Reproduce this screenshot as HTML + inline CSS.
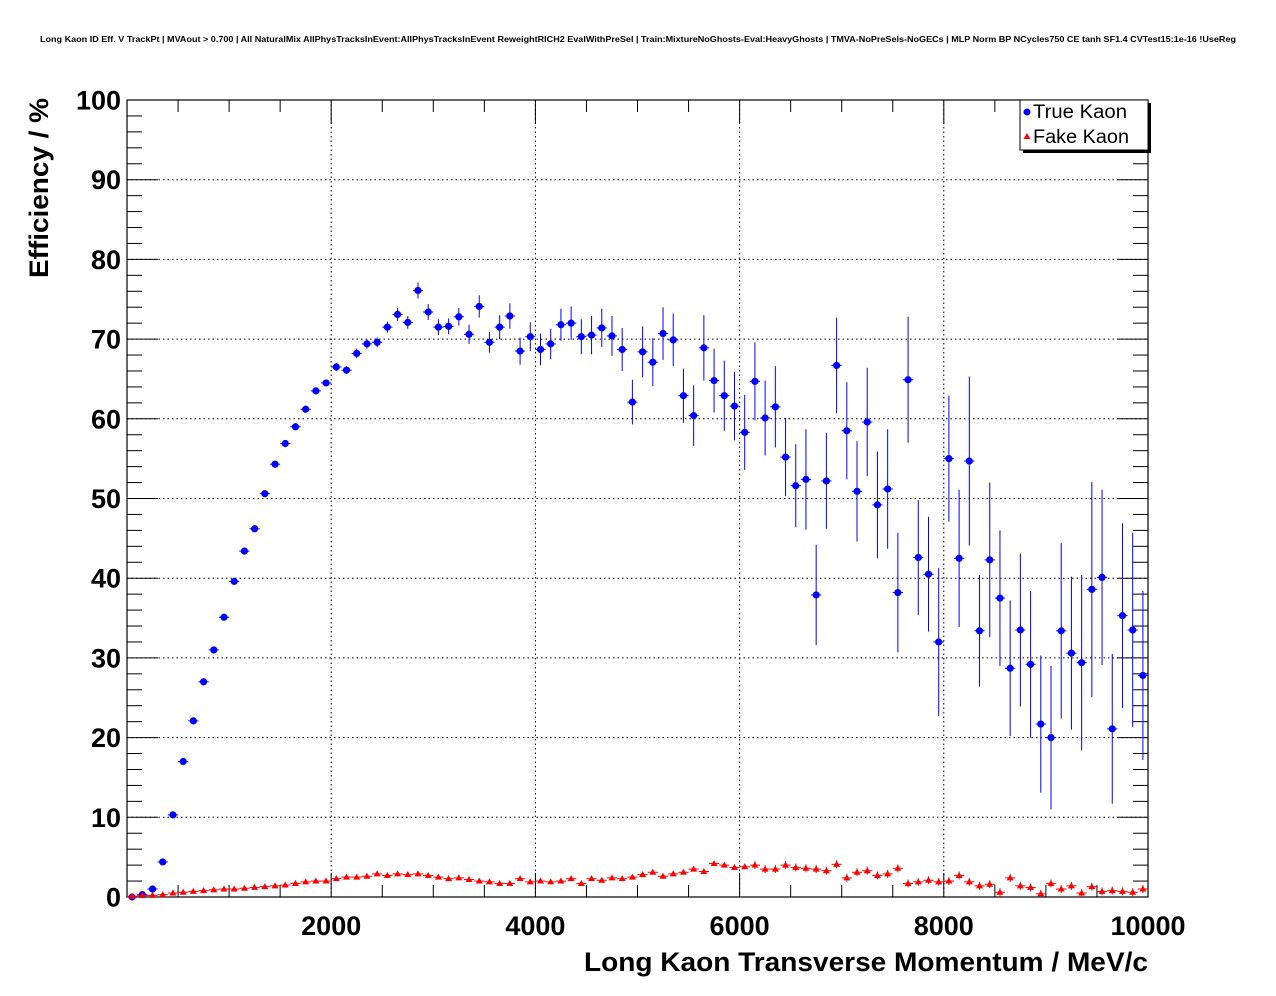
<!DOCTYPE html>
<html><head><meta charset="utf-8"><style>
html,body{margin:0;padding:0;background:#fff;}
svg{display:block;font-family:"Liberation Sans",sans-serif;}
</style></head><body>
<svg id="chart" width="1276" height="996" viewBox="0 0 1276 996" xmlns="http://www.w3.org/2000/svg">
<text x="40" y="42" font-size="8.6" font-weight="bold" textLength="1196" lengthAdjust="spacingAndGlyphs">Long Kaon ID Eff. V TrackPt | MVAout &gt; 0.700 | All NaturalMix AllPhysTracksInEvent:AllPhysTracksInEvent ReweightRICH2 EvalWithPreSel | Train:MixtureNoGhosts-Eval:HeavyGhosts | TMVA-NoPreSels-NoGECs | MLP Norm BP NCycles750 CE tanh SF1.4 CVTest15:1e-16 !UseReg</text>
<g id="grid"></g>
<g id="axes"></g>
<g id="series-true"></g>
<g id="series-fake"></g>
<text transform="translate(48,278) rotate(-90)" font-size="27" font-weight="bold" textLength="180" lengthAdjust="spacingAndGlyphs">Efficiency / %</text>
<text x="584" y="971" font-size="27" font-weight="bold" textLength="564" lengthAdjust="spacingAndGlyphs">Long Kaon Transverse Momentum / MeV/c</text>
<g>
<rect x="1023" y="103" width="128" height="50" fill="#000"/>
<rect x="1020" y="100" width="128" height="50" fill="#fff" stroke="#000" stroke-width="1"/>
<g>
<circle cx="1027" cy="112" r="3.5" fill="#00f"/>
<text x="1033" y="118" font-size="19" textLength="94" lengthAdjust="spacingAndGlyphs">True Kaon</text></g>
<g>
<polygon points="1027,133 1023.5,139 1030.5,139" fill="#f00"/>
<text x="1033" y="143" font-size="19" textLength="96" lengthAdjust="spacingAndGlyphs">Fake Kaon</text></g>
</g>
</svg>
<script>
const trueVals=[0,0.3,1.0,4.4,10.3,17.0,22.1,27.0,31.0,35.1,39.6,43.4,46.2,50.6,54.3,56.9,59.0,61.2,63.5,64.5,66.5,66.1,68.2,69.4,69.6,71.5,73.1,72.1,76.1,73.4,71.5,71.6,72.8,70.6,74.1,69.6,71.5,72.9,68.5,70.3,68.7,69.4,71.8,72.0,70.3,70.5,71.4,70.4,68.7,62.1,68.4,67.1,70.7,69.9,62.9,60.4,68.9,64.8,62.9,61.6,58.3,64.7,60.1,61.5,55.2,51.6,52.4,37.9,52.2,66.7,58.5,50.9,59.6,49.2,51.2,38.2,64.9,42.6,40.5,32.0,55.0,42.5,54.7,33.4,42.3,37.5,28.7,33.5,29.2,21.7,20.0,33.4,30.6,29.4,38.6,40.1,21.1,35.3,33.5,27.8];
const trueErrs=[0.2,0.2,0.2,0.2,0.2,0.2,0.2,0.2,0.2,0.2,0.3,0.3,0.3,0.3,0.3,0.3,0.3,0.3,0.4,0.4,0.5,0.5,0.6,0.6,0.6,0.7,0.8,0.8,1.0,1.0,1.0,1.0,1.1,1.2,1.4,1.3,1.5,1.6,1.7,1.8,2.0,1.9,2.0,2.1,2.2,2.4,2.4,2.5,2.7,2.8,3.2,3.0,3.3,3.3,3.4,3.8,4.1,4.0,4.4,4.3,4.7,4.9,4.7,5.1,4.9,5.2,6.3,6.3,6.0,6.0,6.1,6.3,6.8,6.7,7.5,7.5,7.9,7.2,7.2,9.3,7.9,8.6,10.6,7.0,9.7,8.5,8.5,9.6,9.2,8.6,9.0,11.0,9.6,11.0,13.5,11.0,9.4,11.6,12.2,10.6];
const fakeVals=[0.1,0.2,0.2,0.3,0.5,0.6,0.7,0.8,0.9,1.0,1.0,1.1,1.2,1.3,1.4,1.5,1.7,1.9,2.0,2.0,2.3,2.5,2.5,2.6,2.9,2.7,2.9,2.8,2.9,2.7,2.5,2.3,2.4,2.2,2.0,1.9,1.7,1.7,2.3,1.9,2.0,1.9,2.0,2.3,1.7,2.3,2.1,2.4,2.3,2.5,2.8,3.1,2.6,2.9,3.1,3.5,3.2,4.2,4.0,3.7,3.8,4.0,3.5,3.5,4.0,3.7,3.6,3.5,3.3,4.1,2.4,3.1,3.3,2.7,2.9,3.6,1.7,1.9,2.1,1.9,2.0,2.7,1.9,1.4,1.6,0.6,2.4,1.4,1.2,0.4,1.7,1.0,1.4,0.5,1.3,0.7,0.8,0.7,0.6,1.0];
const xTicks=[2000,4000,6000,8000,10000];
const yTicks=[0,10,20,30,40,50,60,70,80,90,100];
const binWidth=100;

const NS="http://www.w3.org/2000/svg";
const L=127,R=1148,T=100,B=897;
const xs=v=>L+(v/10000)*(R-L);
const ys=v=>B-(v/100)*(B-T);
function mk(tag,attrs,parent){const e=document.createElementNS(NS,tag);for(const k in attrs)e.setAttribute(k,attrs[k]);parent.appendChild(e);return e;}
const grid=document.getElementById('grid'),axes=document.getElementById('axes');
xTicks.forEach(t=>{if(t<10000){const g=mk('line',{x1:xs(t),x2:xs(t),y1:T,y2:B,stroke:'#000','stroke-width':1,'stroke-dasharray':'1.5,3'},grid);

}});
yTicks.forEach(t=>{if(t>0&&t<100){const g=mk('line',{x1:L,x2:R,y1:ys(t),y2:ys(t),stroke:'#000','stroke-width':1,'stroke-dasharray':'1.5,3'},grid);

}});
const fr=mk('rect',{x:L,y:T,width:R-L,height:B-T,fill:'none',stroke:'#000','stroke-width':1.2},axes);


for(let v=0;v<=10000;v+=500){const maj=v%2000===0;const len=maj?24:12;
mk('line',{x1:xs(v),x2:xs(v),y1:B,y2:B-len,stroke:'#000','stroke-width':1},axes);
mk('line',{x1:xs(v),x2:xs(v),y1:T,y2:T+len,stroke:'#000','stroke-width':1},axes);}
xTicks.forEach(t=>{const tx=mk('text',{x:xs(t),y:935,'font-size':27,'font-weight':'bold','text-anchor':'middle'},axes);tx.textContent=t;

});
for(let v=0;v<=100;v+=2){const maj=v%10===0;const len=maj?31:15;
mk('line',{x1:L,x2:L+len,y1:ys(v),y2:ys(v),stroke:'#000','stroke-width':1},axes);
mk('line',{x1:R,x2:R-len,y1:ys(v),y2:ys(v),stroke:'#000','stroke-width':1},axes);}
yTicks.forEach(t=>{const tx=mk('text',{x:121,y:ys(t)+9.5,'font-size':27,'font-weight':'bold','text-anchor':'end'},axes);tx.textContent=t;

});
const gt=document.getElementById('series-true');
trueVals.forEach((v,i)=>{const c=i*binWidth+binWidth/2;const x=xs(c),y=ys(v);
const g=mk('g',{},gt);


mk('line',{x1:xs(c-binWidth/2),x2:xs(c+binWidth/2),y1:y,y2:y,stroke:'#00f','stroke-width':1},g);
mk('line',{x1:x,x2:x,y1:ys(Math.max(0,v-trueErrs[i])),y2:ys(Math.min(100,v+trueErrs[i])),stroke:'#00f','stroke-width':1},g);
mk('circle',{cx:x,cy:y,r:3.6,fill:'#00f'},g);});
const gf=document.getElementById('series-fake');
fakeVals.forEach((v,i)=>{const c=i*binWidth+binWidth/2;const x=xs(c),y=ys(v);
const g=mk('g',{},gf);


mk('line',{x1:xs(c-binWidth/2),x2:xs(c+binWidth/2),y1:y,y2:y,stroke:'#f00','stroke-width':1},g);
const e=i>60?0.5:0.2;
mk('line',{x1:x,x2:x,y1:ys(Math.max(0,v-e)),y2:ys(v+e),stroke:'#f00','stroke-width':1},g);
mk('polygon',{points:`${x},${y-3.5} ${x-3.5},${y+2.5} ${x+3.5},${y+2.5}`,fill:'#f00'},g);});
</script>
</body></html>
